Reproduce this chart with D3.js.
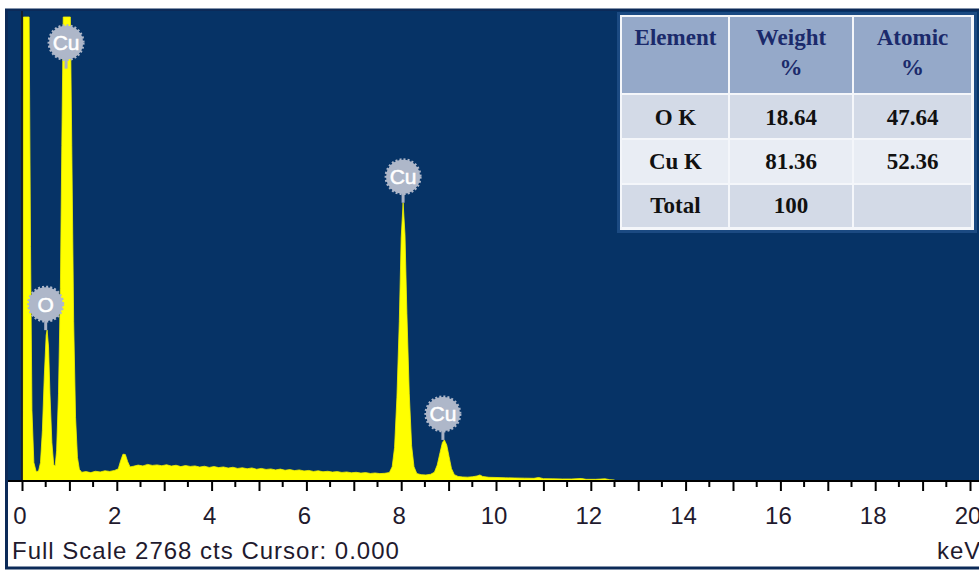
<!DOCTYPE html>
<html><head><meta charset="utf-8">
<script src="https://cdn.jsdelivr.net/npm/d3@7"></script>
<style>html,body{margin:0;padding:0;background:#fff;} svg{display:block}</style>
</head><body><svg id="c" width="979" height="571"></svg>
<script>
// ---------- DATA ----------
const fullScaleCounts = 2768;
const energyKeV = [0.00,0.02,0.03,0.15,0.18,0.21,0.25,0.30,0.35,0.39,0.43,0.47,0.51,0.53,0.56,0.59,0.63,0.67,0.70,0.73,0.77,0.81,0.84,0.87,1.02,1.05,1.09,1.13,1.17,1.21,1.26,1.35,1.45,1.55,1.65,1.75,1.85,1.95,2.03,2.08,2.13,2.18,2.23,2.28,2.35,2.45,2.55,2.65,2.75,2.85,2.95,3.05,3.15,3.25,3.35,3.45,3.55,3.65,3.75,3.85,3.95,4.05,4.15,4.25,4.35,4.45,4.55,4.65,4.75,4.85,4.95,5.05,5.15,5.25,5.35,5.45,5.55,5.65,5.75,5.85,5.95,6.05,6.15,6.25,6.35,6.45,6.55,6.65,6.75,6.85,6.95,7.05,7.15,7.25,7.35,7.45,7.55,7.65,7.75,7.81,7.86,7.91,7.96,8.00,8.04,8.08,8.12,8.17,8.22,8.27,8.33,8.42,8.52,8.62,8.70,8.76,8.82,8.87,8.91,8.96,9.01,9.06,9.12,9.20,9.30,9.40,9.50,9.60,9.66,9.72,9.85,10.00,10.20,10.40,10.60,10.80,10.90,11.00,11.20,11.40,11.60,11.80,11.90,12.10,12.30,12.40,12.50,12.52];
const counts = [0,0,2900,2900,1400,420,110,55,60,110,300,620,870,900,800,520,230,95,90,180,520,1150,2000,2900,2900,2000,950,380,140,70,52,56,50,58,54,61,57,63,72,120,160,158,115,84,88,95,90,99,93,96,91,97,89,94,86,92,87,90,83,88,81,86,80,84,77,82,75,79,73,78,70,75,69,72,66,71,64,68,62,66,60,63,57,61,55,58,53,56,51,54,49,52,47,50,45,48,44,46,50,85,200,500,950,1450,1660,1470,1000,520,210,85,44,38,36,40,52,95,170,230,245,215,145,75,38,27,24,23,25,30,36,27,22,21,19,18,17,16,21,14,13,12,12,15,10,10,13,8,6,0];

const peakLabels = ["Cu","O","Cu","Cu"];
const peakKeV = [0.93, 0.50, 8.04, 8.88];
const peakMarkerCounts = [2460, 900, 1660, 245];

const majorTickKeV = [0,1,2,3,4,5,6,7,8,9,10,11,12,13,14,15,16,17,18,19,20];
const tickLabelKeV = [0,2,4,6,8,10,12,14,16,18,20];
const tickLabels = ["0","2","4","6","8","10","12","14","16","18","20"];

const tableHeader = [["Element"],["Weight","%"],["Atomic","%"]];
const tableElements = ["O K","Cu K","Total"];
const tableWeight = ["18.64","81.36","100"];
const tableAtomic = ["47.64","52.36",""];

const footerText = "Full Scale 2768 cts Cursor: 0.000";
const unitText = "keV";

// ---------- DRAW ----------
const svg = d3.select("#c");
const plotTop = 11, axisY = 481;
const x = d3.scaleLinear().domain([0, 20]).range([22, 970]);
const y = d3.scaleLinear().domain([0, fullScaleCounts]).range([axisY, 17]).clamp(true);
const sans = "'Liberation Sans', Arial, sans-serif";

svg.append("rect").attr("width",979).attr("height",571).attr("fill","#fff");
// frame
svg.append("rect").attr("x",6.5).attr("y",10).attr("width",990).attr("height",558)
  .attr("fill","#fff").attr("stroke","#0c2a58").attr("stroke-width",3);
// plot background
svg.append("rect").attr("x",8).attr("y",plotTop).attr("width",979-8).attr("height",axisY-plotTop)
  .attr("fill","#063366");

// spectrum
const pts = energyKeV.map((e,i)=>[e, counts[i]]);
const area = d3.area().x(d=>x(d[0])).y0(axisY).y1(d=>y(d[1])).curve(d3.curveLinear);
svg.append("path").datum(pts).attr("d",area).attr("fill","#ffff00").attr("stroke","#f2f200").attr("stroke-width",0.8);

// cursor line at 0
svg.append("line").attr("x1",x(0)).attr("x2",x(0)).attr("y1",plotTop).attr("y2",axisY)
  .attr("stroke","#1a1a1a").attr("stroke-width",1.5);

// axis line
svg.append("line").attr("x1",8).attr("x2",979).attr("y1",axisY).attr("y2",axisY)
  .attr("stroke","#000").attr("stroke-width",2);

// minor ticks
const minorKeV = d3.range(0.5, 20.6, 1);
svg.append("g").selectAll("line").data(minorKeV).join("line")
  .attr("x1",d=>x(d)).attr("x2",d=>x(d)).attr("y1",axisY).attr("y2",axisY+6)
  .attr("stroke","#000").attr("stroke-width",2);
// major ticks
const axis = d3.axisBottom(x).tickValues(majorTickKeV).tickSize(10).tickFormat("");
const ag = svg.append("g").attr("transform",`translate(0,${axisY})`).call(axis);
ag.select(".domain").remove();
ag.selectAll(".tick line").attr("stroke","#000").attr("stroke-width",2);
// tick labels
svg.append("g").selectAll("text").data(tickLabelKeV).join("text")
  .attr("x",d=>x(d)-2).attr("y",524)
  .attr("text-anchor","middle")
  .attr("font-family",sans)
  .attr("font-size",24).attr("fill","#1f1a2e")
  .text((d,i)=>tickLabels[i]);

svg.append("text").attr("x",12).attr("y",559)
  .attr("font-family",sans).attr("letter-spacing",1)
  .attr("font-size",24).attr("fill","#1f1a2e").text(footerText);
svg.append("text").attr("x",937).attr("y",559)
  .attr("font-family",sans).attr("letter-spacing",1)
  .attr("font-size",24).attr("fill","#1f1a2e").text(unitText);

// peak labels
const lg = svg.append("g").selectAll("g").data(peakLabels).join("g")
  .attr("transform",(d,i)=>`translate(${x(peakKeV[i])},${y(peakMarkerCounts[i])})`);
lg.append("line").attr("x1",0).attr("x2",0).attr("y1",-10).attr("y2",0)
  .attr("stroke","#a9b2c4").attr("stroke-width",3);
lg.append("circle").attr("cx",0).attr("cy",-26).attr("r",17)
  .attr("fill","#aeb7c9").attr("stroke","#aeb7c9").attr("stroke-width",3).attr("stroke-dasharray","2 2");
lg.append("text").attr("x",0).attr("y",-26).attr("dy","0.36em")
  .attr("text-anchor","middle")
  .attr("font-family",sans)
  .attr("font-size",21).attr("fill","#fff")
  .attr("stroke","#ffffff").attr("stroke-width",0.5)
  .text(d=>d);

// table
const colX = [622, 729, 853, 972];
const rowY = [17, 94, 139, 184, 228];
const tg = svg.append("g");
tg.append("rect").attr("x",617).attr("y",12).attr("width",360).attr("height",221).attr("fill","#1b4a82");
tg.append("rect").attr("x",620).attr("y",15).attr("width",354).attr("height",215).attr("fill","#f4f6fa");
const rowFill = ["#95a9c9","#d3dae7","#e9edf4","#d3dae7"];
for (let r=0;r<4;r++){
  for (let c=0;c<3;c++){
    tg.append("rect").attr("x",colX[c]+ (c?1:0)).attr("y",rowY[r]+(r?1:0))
      .attr("width",colX[c+1]-colX[c]-(c?1:0)-1).attr("height",rowY[r+1]-rowY[r]-(r?1:0)-1)
      .attr("fill",rowFill[r]);
  }
}
const serif = "'Liberation Serif', 'Times New Roman', serif";
tableHeader.forEach((lines,c)=>{
  lines.forEach((t,k)=>{
    tg.append("text").attr("x",(colX[c]+colX[c+1])/2).attr("y",45+k*30)
      .attr("text-anchor","middle").attr("font-family",serif).attr("font-weight","bold")
      .attr("font-size",23).attr("fill","#1b2a6b").text(t);
  });
});
const bodyRows = tableElements.map((e,i)=>[e, tableWeight[i], tableAtomic[i]]);
const bodyBase = [125, 169, 213];
bodyRows.forEach((row,r)=>{
  row.forEach((t,c)=>{
    tg.append("text").attr("x",(colX[c]+colX[c+1])/2).attr("y",bodyBase[r])
      .attr("text-anchor","middle").attr("font-family",serif).attr("font-weight","bold")
      .attr("font-size",23).attr("fill","#111").text(t);
  });
});
</script>
</body></html>
